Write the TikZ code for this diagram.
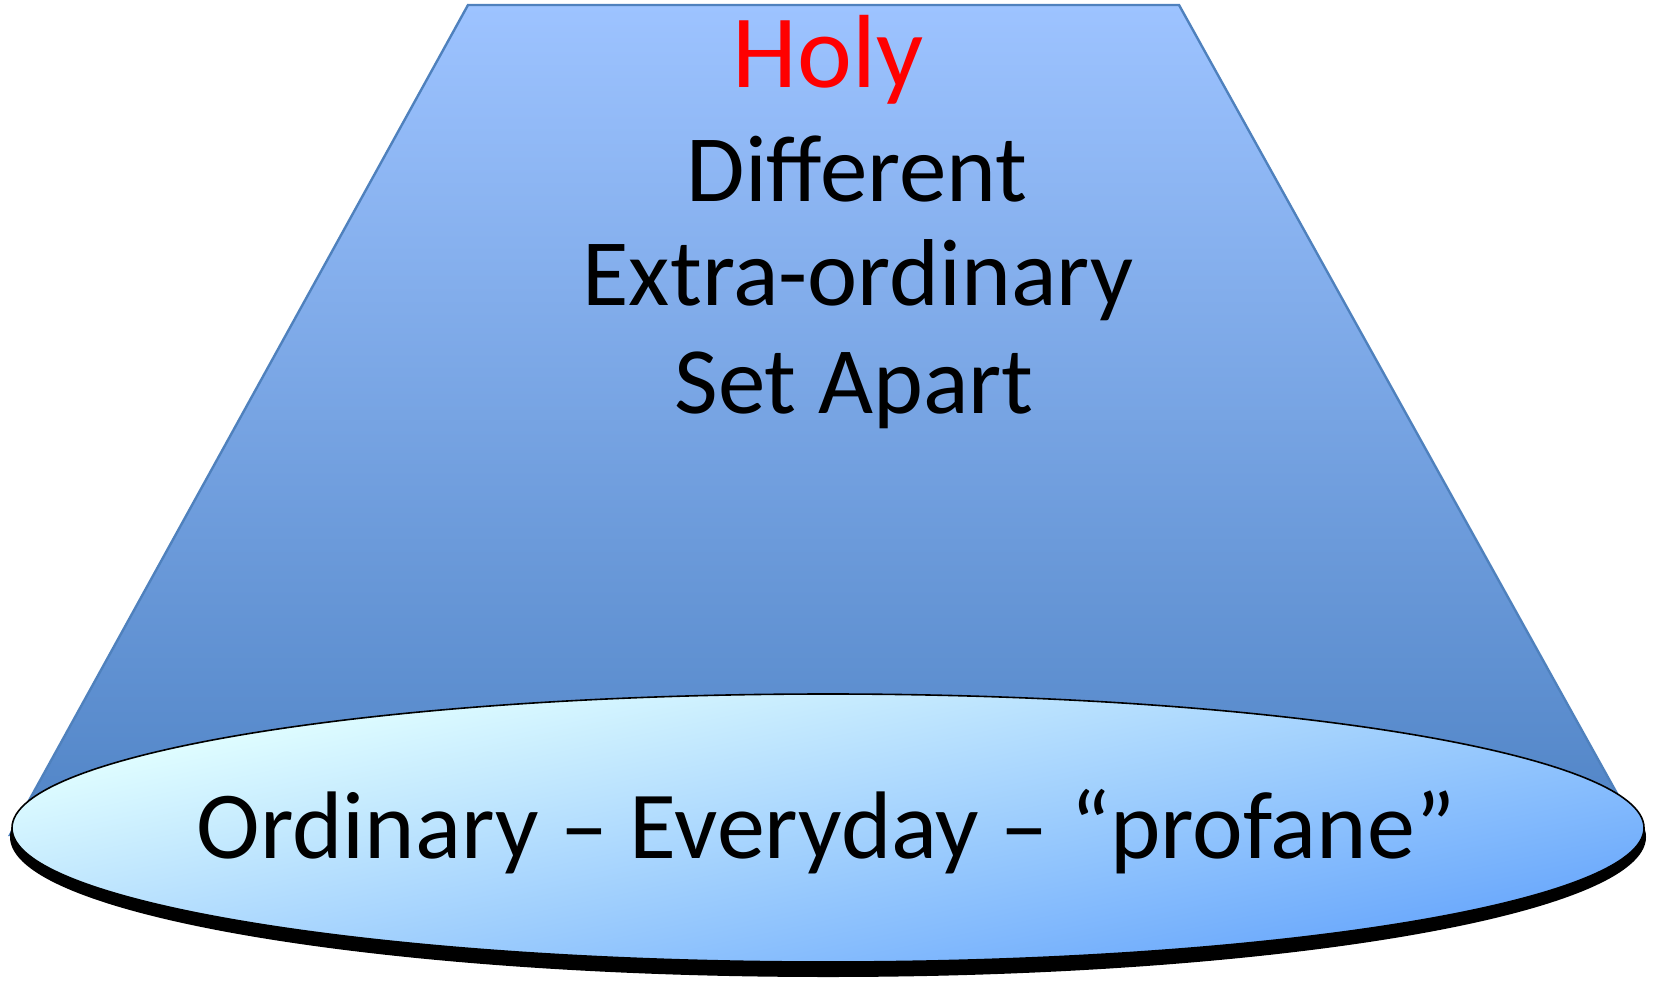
\documentclass[tikz,border=0pt]{standalone}
\usepackage{fontspec}
\setmainfont{Carlito}
\definecolor{trapTop}{RGB}{157,195,255}
\definecolor{trapBot}{RGB}{80,132,198}
\definecolor{trapLine}{RGB}{79,129,189}
\definecolor{ellLight}{RGB}{226,255,255}
\definecolor{ellMid}{RGB}{172,222,255}
\definecolor{ellDark}{RGB}{106,168,252}
\definecolor{holyRed}{RGB}{255,0,0}
\begin{document}
\begin{tikzpicture}[x=0.5pt,y=-0.5pt,
  label/.style={anchor=base,inner sep=0pt,font=\fontsize{47.5}{57}\selectfont},
  holylabel/.style={anchor=base,inner sep=0pt,text=holyRed,font=\fontsize{52}{62}\selectfont},
  baselabel/.style={anchor=base,inner sep=0pt,font=\fontsize{48}{58}\selectfont}]
\useasboundingbox (0,0) rectangle (1658,984);
% cone body
\draw[trapLine,line width=1.2pt,top color=trapTop,bottom color=trapBot]
  (468,5) -- (1179,5) -- (1640,835) -- (10,835) -- cycle;
% shadow of the base
\fill[black] (828,837) ellipse [x radius=818, y radius=140];
% base ellipse, filled with a tilted gradient
\begin{scope}
  \clip (828,828) ellipse [x radius=816, y radius=134];
  \begin{scope}[transform canvas={rotate around={12:(828,828)}}]
    \shade[top color=ellLight,middle color=ellMid,bottom color=ellDark]
      (-300,600) rectangle (1960,1056);
  \end{scope}
\end{scope}
\draw[black,line width=0.8pt] (828,828) ellipse [x radius=816, y radius=134];
\node[holylabel] (holy) at (828,88) {Holy};
\node[label] (diff) at (857,202) {Different};
\node[label] (extra) at (858,305) {Extra-ordinary};
\node[label] (apart) at (854,413) {Set Apart};
\node[baselabel] (ord) at (826,858) {Ordinary – Everyday – “profane”};
\end{tikzpicture}
\end{document}
